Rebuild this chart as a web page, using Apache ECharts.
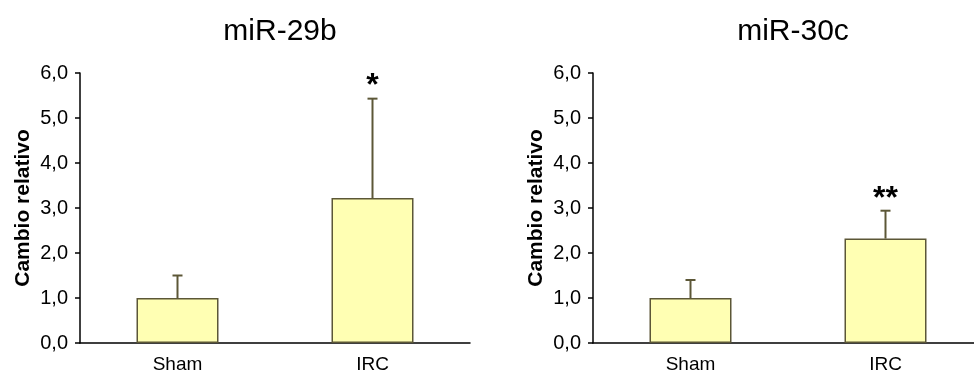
<!DOCTYPE html>
<html>
<head>
<meta charset="utf-8">
<script src="https://cdn.jsdelivr.net/npm/echarts@6/dist/echarts.min.js"></script>
<style>html,body{margin:0;padding:0;background:#fff;overflow:hidden;width:974px;height:376px}#c{width:1000px;height:376px}</style>
</head>
<body>
<div id="c"></div>
<script>
const categories = ['Sham', 'IRC'];
const titles = ['miR-29b', 'miR-30c'];
const yAxisName = 'Cambio relativo';
const yTicks = [0, 1, 2, 3, 4, 5, 6];
const means29b = [1.0, 3.22];
const errors29b = [0.5, 2.21];
const signif29b = ['', '*'];
const means30c = [1.0, 2.32];
const errors30c = [0.4, 0.62];
const signif30c = ['', '**'];

const FONT = 'Liberation Sans';
const BAR_FILL = '#FFFFB3';
const BAR_EDGE = '#5C5737';

const panels = [
  {left: 80, title: titles[0], means: means29b, errs: errors29b, sig: signif29b},
  {left: 593, title: titles[1], means: means30c, errs: errors30c, sig: signif30c}
];

const grid = [], xAxis = [], yAxis = [], series = [], title = [];
panels.forEach((p, i) => {
  grid.push({left: p.left, top: 73, width: 390, height: 270, containLabel: false});
  title.push({
    text: p.title, left: p.left + 195, top: 12, textAlign: 'center',
    textStyle: {fontFamily: FONT, fontSize: 30, fontWeight: 'normal', color: '#000'}
  });
  xAxis.push({
    type: 'category', gridIndex: i, data: categories, boundaryGap: true,
    axisLine: {lineStyle: {color: '#000', width: 1.5}},
    axisTick: {show: false},
    axisLabel: {color: '#000', fontFamily: FONT, fontSize: 19, margin: 12}
  });
  yAxis.push({
    type: 'value', gridIndex: i, min: yTicks[0], max: yTicks[yTicks.length - 1], interval: 1,
    name: yAxisName, nameLocation: 'middle', nameGap: 46,
    nameTextStyle: {fontFamily: FONT, fontSize: 21, fontWeight: 'bold', color: '#000'},
    axisLine: {show: true, lineStyle: {color: '#000', width: 1.5}},
    axisTick: {show: true, inside: false, length: 5, lineStyle: {color: '#000', width: 1.5}},
    splitLine: {show: false},
    axisLabel: {color: '#000', fontFamily: FONT, fontSize: 20, margin: 12,
      formatter: v => v.toFixed(1).replace('.', ',')}
  });
  series.push({
    type: 'bar', xAxisIndex: i, yAxisIndex: i, data: p.means, barWidth: 82,
    itemStyle: {color: BAR_FILL, borderColor: BAR_EDGE, borderWidth: 1.5},
    z: 2
  });
  series.push({
    type: 'custom', xAxisIndex: i, yAxisIndex: i, z: 3,
    data: p.means.map((m, k) => [k, m, m + p.errs[k], p.sig[k]]),
    renderItem: (params, api) => {
      const base = api.coord([api.value(0), api.value(1)]);
      const top = api.coord([api.value(0), api.value(2)]);
      const sig = p.sig[params.dataIndex];
      const children = [
        {type: 'line', shape: {x1: base[0], y1: base[1], x2: top[0], y2: top[1]},
          style: {stroke: BAR_EDGE, lineWidth: 2}},
        {type: 'line', shape: {x1: top[0] - 5, y1: top[1], x2: top[0] + 5, y2: top[1]},
          style: {stroke: BAR_EDGE, lineWidth: 2}}
      ];
      if (sig) {
        children.push({type: 'text', x: top[0], y: top[1] - 12,
          style: {text: sig, fontFamily: FONT, fontSize: 32, fontWeight: 'bold', fill: '#000',
            align: 'center', verticalAlign: 'middle'}});
      }
      return {type: 'group', children};
    }
  });
});

const chart = echarts.init(document.getElementById('c'));
chart.setOption({animation: false, backgroundColor: '#fff', title, grid, xAxis, yAxis, series});
</script>
</body>
</html>
